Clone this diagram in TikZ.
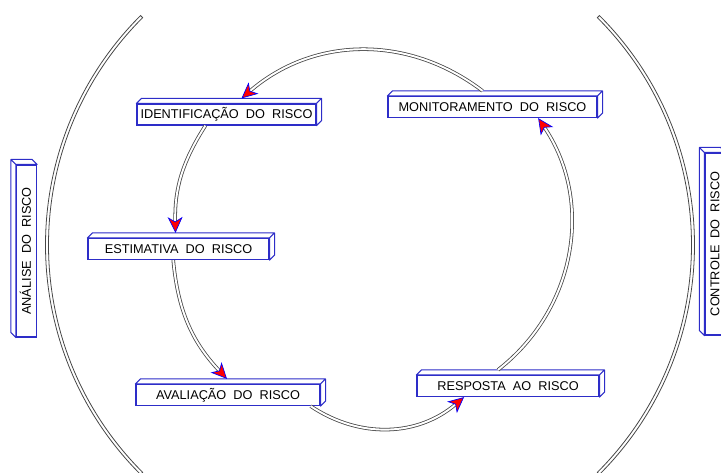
\documentclass[tikz,border=0pt]{standalone}
\usepackage{fontspec}
\setmainfont{Liberation Sans}
\usetikzlibrary{arrows.meta}

\definecolor{boxblue}{RGB}{45,45,200}
\definecolor{linegray}{RGB}{70,70,70}
\newcommand{\riskfont}{\fontsize{7.25}{8.5}\selectfont}

\tikzset{
  riskbox/.style={draw=boxblue, fill=white, line width=0.7pt, inner sep=0pt,
    minimum height=0.42cm, font=\riskfont, text height=5.3pt, text depth=0.3pt},
  boxface/.style={draw=boxblue, fill=white, line width=0.6pt, line join=round},
  flow/.style={draw=linegray, line width=0.45pt, double=white, double distance=1.1pt,
    -{Stealth[length=9pt,width=8.5pt,inset=2.5pt,fill=red,color=blue,line width=0.4pt]}},
  band/.style={draw=linegray, fill=white, line width=0.45pt}
}

\begin{document}
\begin{tikzpicture}[x=0.02cm,y=0.02cm]
\useasboundingbox (0,0) rectangle (721,473);
\clip (0,0) rectangle (721,473);

% centre of the rings
\coordinate (ctr) at (370,228);

% outer rings
\draw[band] (ctr) ++(135:321.5) arc[start angle=135,end angle=225,radius=321.5] -- ++(225:3) arc[start angle=225,end angle=135,radius=324.5] -- cycle;
\draw[band] (ctr) ++(-45:321.5) arc[start angle=-45,end angle=45,radius=321.5] -- ++(45:3) arc[start angle=45,end angle=-45,radius=324.5] -- cycle;

% boxes
\node[riskbox, minimum width=3.58cm] (ide) at (226.5,358.5) {IDENTIFICAÇÃO~~DO~~RISCO};
\node[riskbox, minimum width=4.18cm] (mon) at (492.5,366) {MONITORAMENTO~~DO~~RISCO};
\node[riskbox, minimum width=3.62cm] (est) at (178.5,224) {ESTIMATIVA~~DO~~RISCO};
\node[riskbox, minimum width=3.68cm] (ava) at (228,78) {AVALIAÇÃO~~DO~~RISCO};
\node[riskbox, minimum width=3.64cm] (res) at (508,87) {RESPOSTA~~AO~~RISCO};
\node[riskbox, minimum width=3.44cm, minimum height=0.4cm, rotate=90] (ana) at (26.5,222) {ANÁLISE~~DO~~RISCO};
\node[riskbox, minimum width=3.64cm, minimum height=0.4cm, rotate=90] (ctl) at (715,229) {CONTROLE~~DO~~RISCO};

% depth of the boxes
\foreach \n/\d in {ide/1,mon/1,est/1,ava/1,res/1,ana/-1,ctl/-1}
  \draw[boxface] (\n.north west) -- ++(5*\d,5) -- ([shift={(5*\d,5)}]\n.north east)
    -- ([shift={(5*\d,5)}]\n.south east) -- (\n.south east) -- (\n.north east) -- cycle
    (\n.north east) -- ++(5*\d,5);

% cycle
\draw[flow] ([shift={(-10,5)}]mon.north) to[bend right=39] ([shift={(15,5)}]ide.north);
\draw[flow] ([xshift=-12]ide.south) to[bend right=17] ([shift={(-3,5)}]est.north);
\draw[flow] ([xshift=-3]est.south) to[bend right=19] ([shift={(-1,5)}]ava.north);
\draw[flow] ([xshift=47]ava.south) to[bend right=37] ([xshift=-25]res.south);
\draw[flow] ([shift={(-10,5)}]res.north) to[bend right=43] ([xshift=26]mon.south);

\end{tikzpicture}
\end{document}
